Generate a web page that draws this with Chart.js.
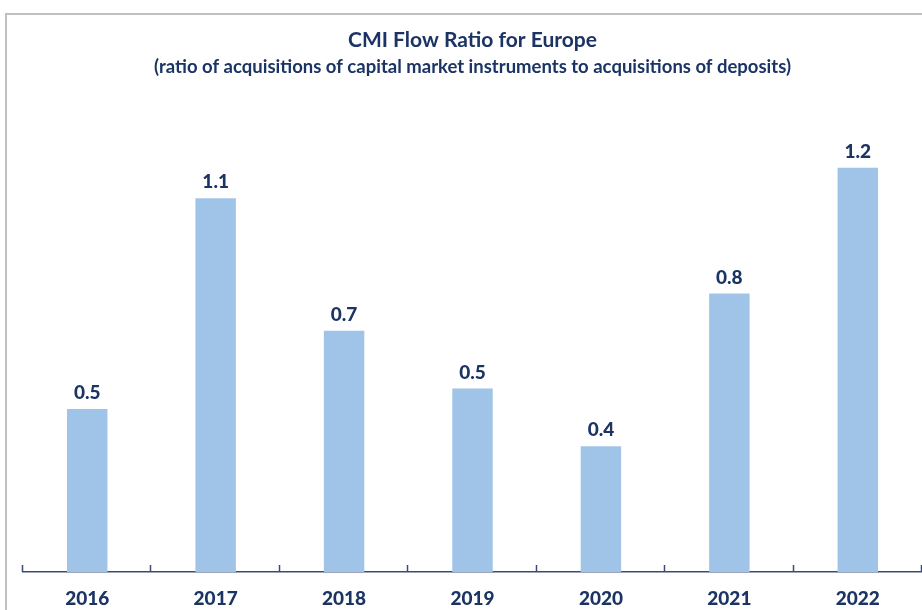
<!DOCTYPE html>
<html>
<head>
<meta charset="utf-8">
<script src="https://cdn.jsdelivr.net/npm/chart.js@4"></script>
<style>
  html, body { margin: 0; padding: 0; background: #fff; overflow: hidden; }
  canvas { display: block; }
</style>
</head>
<body>
<canvas id="chart" width="922" height="610"></canvas>
<script>
const years = ["2016", "2017", "2018", "2019", "2020", "2021", "2022"];
const ratios = [0.48, 1.1, 0.71, 0.54, 0.37, 0.82, 1.19];

const navy = "#1b3464";

// grey frame behind the chart, plus tick marks pointing up from the axis
const decor = {
  id: "decor",
  beforeDraw(chart) {
    const ctx = chart.ctx;
    ctx.save();
    ctx.strokeStyle = "#c0c0c0";
    ctx.lineWidth = 2;
    ctx.beginPath();
    ctx.moveTo(6, 610);
    ctx.lineTo(6, 14);
    ctx.lineTo(922, 14);
    ctx.stroke();
    ctx.restore();
  },
  afterDraw(chart) {
    const ctx = chart.ctx;
    const x = chart.scales.x;
    const step = x.getPixelForValue(1) - x.getPixelForValue(0);
    const bottom = chart.chartArea.bottom;
    ctx.save();
    ctx.strokeStyle = "#3c4a78";
    ctx.lineWidth = 1.5;
    ctx.beginPath();
    for (let i = 0; i <= years.length; i++) {
      const px = Math.round(x.getPixelForValue(0) - step / 2 + i * step) - 0.5;
      ctx.moveTo(px, bottom);
      ctx.lineTo(px, bottom - 7);
    }
    ctx.stroke();
    ctx.restore();
  },
  afterDatasetsDraw(chart) {
    const ctx = chart.ctx;
    const meta = chart.getDatasetMeta(0);
    ctx.save();
    ctx.fillStyle = navy;
    ctx.font = "900 19px Lato";
    ctx.textAlign = "center";
    ctx.textBaseline = "middle";
    meta.data.forEach((bar, i) => {
      ctx.fillText(ratios[i].toFixed(1), bar.x, bar.y - 16);
    });
    ctx.restore();
  },
};

new Chart(document.getElementById("chart"), {
  type: "bar",
  data: {
    labels: years,
    datasets: [
      {
        data: ratios,
        backgroundColor: "#9fc4e7",
        categoryPercentage: 1,
        barPercentage: 0.315,
      },
    ],
  },
  options: {
    responsive: false,
    animation: false,
    devicePixelRatio: 1,
    layout: { padding: { left: 23, right: 0, top: 0, bottom: 0 } },
    plugins: {
      legend: { display: false },
      tooltip: { enabled: false },
      title: {
        display: true,
        text: "CMI Flow Ratio for Europe",
        color: navy,
        font: { family: "Lato", size: 21, weight: "bold" },
        padding: { top: 28, bottom: 3 },
      },
      subtitle: {
        display: true,
        text: "(ratio of acquisitions of capital market instruments to acquisitions of deposits)",
        color: navy,
        font: { family: "Lato", size: 18.5, weight: "bold" },
        padding: { top: 0, bottom: 52 },
      },
    },
    scales: {
      x: {
        grid: { display: false, drawTicks: false },
        border: { display: true, color: "#3c4a78", width: 1.5 },
        ticks: {
          color: navy,
          padding: 15,
          font: { family: "Lato", size: 19, weight: "900" },
        },
        afterFit(scale) {
          scale.height = 38;
        },
      },
      y: {
        display: false,
        min: 0,
        max: 1.3,
      },
    },
  },
  plugins: [decor],
});
</script>
</body>
</html>
